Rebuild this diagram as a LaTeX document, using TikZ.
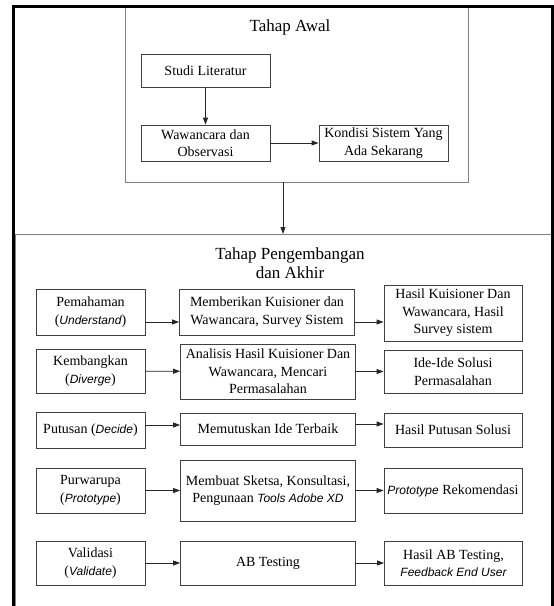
\documentclass[tikz,border=0pt]{standalone}
\usepackage{fontspec}
\setmainfont{Liberation Serif}
\setsansfont{Liberation Sans}
\usetikzlibrary{arrows.meta}
\newcommand{\ital}[1]{{\fontsize{12}{17.5}\selectfont\sffamily\itshape #1}}

\begin{document}
\begin{tikzpicture}[x=1pt, y=-1pt, >={Triangle[length=7pt,width=5pt]},
    box/.style = {draw=black!75, line width=0.8pt, align=center, inner sep=0pt,
      font=\fontsize{14}{17.5}\selectfont},
    colA/.style = {box, minimum width=109pt},
    colB/.style = {box, minimum width=175pt},
    colC/.style = {box, minimum width=138pt},
    frame/.style = {draw=black!50, line width=0.9pt, inner sep=0pt},
    title/.style = {align=center, font=\fontsize{17}{19}\selectfont},
    arr/.style = {->, line width=0.8pt, draw=black!85}]
\clip (0,0) rectangle (554,606);
\fill[white] (0,0) rectangle (554,606);
% tahap awal
\node[frame, minimum width=343pt, minimum height=176pt] (awal) at (296.5,94) {};
\node[title] (tawal) at (290,27) {Tahap Awal};
\node[box, minimum width=129pt, minimum height=33pt] (studi) at (205.5,70.5) {Studi Literatur};
\node[box, minimum width=129pt, minimum height=36pt] (wawan) at (205.5,143) {Wawancara dan\\Observasi};
\node[box, minimum width=129pt, minimum height=36pt] (kondisi) at (383.5,143) {Kondisi Sistem Yang\\Ada Sekarang};
\draw[arr] (studi) -- (wawan);
\draw[arr] (wawan) -- (kondisi);
% tahap pengembangan dan akhir
\node[frame, anchor=north west, minimum width=538pt, minimum height=420pt] (akhir) at (14.5,234) {};
\node[title] (takhir) at (290,263) {Tahap Pengembangan\\dan Akhir};
\draw[arr] ([xshift=-13.5pt]awal.south) -- ([xshift=-13.5pt]awal.south |- akhir.north);

\node[colA, minimum height=46pt] (paham) at (90.5,312) {Pemahaman\\(\ital{Understand})};
\node[colB, minimum height=46pt] (beri) at (267,312) {Memberikan Kuisioner dan\\Wawancara, Survey Sistem};
\node[colC, minimum height=56pt] (hasilpaham) at (453,313) {Hasil Kuisioner Dan\\Wawancara, Hasil\\Survey sistem};

\node[colA, minimum height=44pt] (kembang) at (90.5,371) {Kembangkan\\(\ital{Diverge})};
\node[colB, minimum height=55pt] (analisis) at (268,371.5) {Analisis Hasil Kuisioner Dan\\Wawancara, Mencari\\Permasalahan};
\node[colC, minimum height=43pt] (ide) at (453,371.5) {Ide-Ide Solusi\\Permasalahan};

\node[colA, minimum height=36pt] (putus) at (90.5,430) {Putusan (\ital{Decide})};
\node[colB, minimum height=32pt] (memutus) at (268,429) {Memutuskan Ide Terbaik};
\node[colC, minimum height=34pt] (hasilputus) at (453,430) {Hasil Putusan Solusi};

\node[colA, minimum height=45pt] (purwa) at (90.5,490.5) {Purwarupa\\(\ital{Prototype})};
\node[colB, minimum height=61pt] (sketsa) at (268,490.5) {Membuat Sketsa, Konsultasi,\\Pengunaan \ital{Tools Adobe XD}};
\node[colC, minimum height=45pt] (proto) at (453,490.5) {\ital{Prototype} Rekomendasi};

\node[colA, minimum height=44pt] (valid) at (90.5,563) {Validasi\\(\ital{Validate})};
\node[colB, minimum height=44pt] (abtest) at (268,563) {AB Testing};
\node[colC, minimum height=44pt] (hasilab) at (453.5,563) {Hasil AB Testing,\\\ital{Feedback End User}};

\draw[arr] ([yshift=-10pt]paham.east) -- ([yshift=-10pt]paham.east -| beri.west);
\draw[arr] ([yshift=-10pt]beri.east) -- ([yshift=-10pt]beri.east -| hasilpaham.west);
\draw[arr] (kembang) -- (analisis);
\draw[arr] (analisis.east) -- (analisis.east -| ide.west);
\draw[arr] ([yshift=5pt]putus.east) -- ([yshift=5pt]putus.east -| memutus.west);
\draw[arr] ([yshift=5pt]memutus.east) -- ([yshift=5pt]memutus.east -| hasilputus.west);
\draw[arr] (purwa) -- (sketsa);
\draw[arr] (sketsa) -- (proto);
\draw[arr] (valid) -- (abtest);
\draw[arr] (abtest) -- (hasilab);
% bingkai luar
\draw[line width=3pt] (13.5,6) rectangle (552.5,640);
\end{tikzpicture}
\end{document}
